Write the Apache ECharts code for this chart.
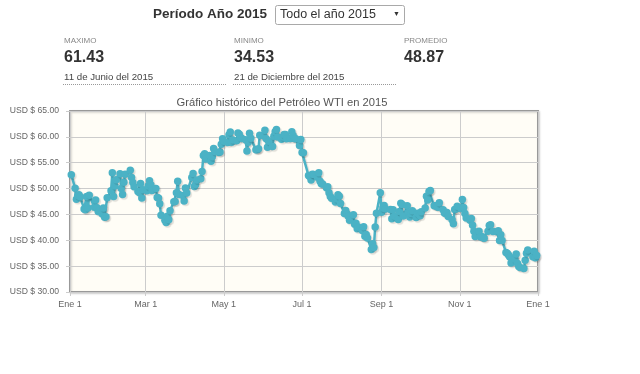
<!DOCTYPE html>
<html>
<head>
<meta charset="utf-8">
<script src="https://cdn.jsdelivr.net/npm/echarts@6/dist/echarts.min.js"></script>
<style>
html,body{margin:0;padding:0;background:#fff;}
#chart{width:640px;height:374px;}
</style>
</head>
<body>
<div id="chart"></div>
<script>
// ---- Data (WTI 2015) ----
const dates = [
'01-02','01-05','01-06','01-07','01-08','01-09','01-12','01-13','01-14','01-15','01-16','01-20','01-21','01-22','01-23','01-26','01-27','01-28','01-29','01-30',
'02-02','02-03','02-04','02-05','02-06','02-09','02-10','02-11','02-12','02-13','02-17','02-18','02-19','02-20','02-23','02-24','02-25','02-26','02-27',
'03-02','03-03','03-04','03-05','03-06','03-09','03-10','03-11','03-12','03-13','03-16','03-17','03-18','03-19','03-20','03-23','03-24','03-25','03-26','03-27','03-30','03-31',
'04-01','04-02','04-06','04-07','04-08','04-09','04-10','04-13','04-14','04-15','04-16','04-17','04-20','04-21','04-22','04-23','04-24','04-27','04-28','04-29','04-30',
'05-01','05-04','05-05','05-06','05-07','05-08','05-11','05-12','05-13','05-14','05-15','05-18','05-19','05-20','05-21','05-22','05-26','05-27','05-28','05-29',
'06-01','06-02','06-03','06-04','06-05','06-08','06-09','06-10','06-11','06-12','06-15','06-16','06-17','06-18','06-19','06-22','06-23','06-24','06-25','06-26','06-29','06-30',
'07-01','07-02','07-06','07-07','07-08','07-09','07-10','07-13','07-14','07-15','07-16','07-17','07-20','07-21','07-22','07-23','07-24','07-27','07-28','07-29','07-30','07-31',
'08-03','08-04','08-05','08-06','08-07','08-10','08-11','08-12','08-13','08-14','08-17','08-18','08-19','08-20','08-21','08-24','08-25','08-26','08-27','08-28','08-31',
'09-01','09-02','09-03','09-04','09-08','09-09','09-10','09-11','09-14','09-15','09-16','09-17','09-18','09-21','09-22','09-23','09-24','09-25','09-28','09-29','09-30',
'10-01','10-02','10-05','10-06','10-07','10-08','10-09','10-12','10-13','10-14','10-15','10-16','10-19','10-20','10-21','10-22','10-23','10-26','10-27','10-28','10-29','10-30',
'11-02','11-03','11-04','11-05','11-06','11-09','11-10','11-11','11-12','11-13','11-16','11-17','11-18','11-19','11-20','11-23','11-24','11-25','11-27','11-30',
'12-01','12-02','12-03','12-04','12-07','12-08','12-09','12-10','12-11','12-14','12-15','12-16','12-17','12-18','12-21','12-22','12-23','12-24','12-28','12-29','12-30','12-31'
];
const prices = [
52.69,50.04,47.93,48.65,48.79,48.36,46.07,45.89,48.48,46.25,48.69,46.39,47.78,46.31,45.59,45.15,46.23,44.45,44.53,48.24,
49.57,53.05,48.45,50.48,51.69,52.86,50.02,48.84,51.21,52.78,53.53,52.14,51.16,50.34,49.45,49.25,50.99,48.17,49.76,
49.59,50.52,51.53,50.76,49.61,50.00,48.29,48.17,47.05,44.84,43.88,43.46,44.66,43.96,45.72,47.45,47.51,49.21,51.43,48.87,48.68,47.60,
50.09,49.14,52.14,52.90,50.42,50.79,51.64,51.91,53.29,56.39,56.71,55.74,56.38,55.26,56.16,57.74,57.15,56.99,57.06,58.58,59.63,
59.15,58.93,60.40,60.93,58.94,59.39,59.25,60.75,60.50,59.88,59.69,59.43,57.26,58.98,60.72,59.72,57.51,57.51,57.68,60.30,
60.20,61.26,59.64,58.00,59.13,58.14,60.14,61.00,61.43,59.96,59.52,59.97,60.45,60.45,59.61,59.68,61.01,60.27,59.70,59.63,58.33,59.47,
56.96,56.93,52.53,52.33,51.65,52.78,52.74,52.20,53.04,51.41,50.91,50.89,50.15,50.36,49.19,48.45,48.14,47.39,47.98,48.79,48.52,47.12,
45.17,45.74,45.15,44.66,43.87,44.96,43.08,43.30,42.23,42.50,41.87,42.62,40.80,41.14,40.45,38.24,39.31,38.60,42.56,45.22,49.20,
45.41,46.25,46.75,46.05,45.94,44.15,45.92,44.63,44.00,45.59,47.15,46.90,44.68,46.68,45.36,44.48,45.20,45.70,44.43,45.23,45.09,
44.74,45.54,46.26,48.53,47.81,49.43,49.63,46.66,46.66,46.64,46.38,47.26,45.89,45.29,45.20,45.38,44.60,43.98,43.20,45.94,46.06,46.59,
46.14,47.90,46.32,45.20,44.29,43.87,44.21,42.93,41.75,40.74,41.74,40.67,40.75,40.54,40.39,41.75,42.87,42.98,41.71,41.65,
41.85,39.94,41.08,39.97,37.65,37.51,37.16,36.76,35.62,36.31,37.35,35.52,34.95,34.73,34.53,36.14,37.50,38.10,36.81,37.87,36.60,37.04
];
const xTickDays = [0, 59, 120, 181, 243, 304, 365];
const xTickLabels = ['Ene 1', 'Mar 1', 'May 1', 'Jul 1', 'Sep 1', 'Nov 1', 'Ene 1'];
const yMin = 30, yMax = 65, yStep = 5;
const statLabels = ['MAXIMO', 'MINIMO', 'PROMEDIO'];
const statValues = ['61.43', '34.53', '48.87'];
const statDates = ['11 de Junio del 2015', '21 de Diciembre del 2015', ''];

function dayOfYear(md) {
  const [m, d] = md.split('-').map(Number);
  return (Date.UTC(2015, m - 1, d) - Date.UTC(2015, 0, 1)) / 86400000;
}
const seriesData = dates.map((d, i) => [dayOfYear(d), prices[i]]);

const FONT = 'Liberation Sans, Arial, sans-serif';
const chart = echarts.init(document.getElementById('chart'), null, {renderer: 'canvas'});

const graphics = [
  {type: 'text', left: 153, top: 7, style: {text: 'Período Año 2015', font: 'bold 13.5px ' + FONT, fill: '#333'}},
  {type: 'rect', shape: {x: 275.5, y: 5.5, width: 129, height: 19, r: 2}, style: {fill: '#fff', stroke: '#a9a9a9', lineWidth: 1}},
  {type: 'text', left: 280, top: 8, style: {text: 'Todo el año 2015', font: '12.5px ' + FONT, fill: '#333'}},
  {type: 'text', left: 393, top: 11, style: {text: '▼', font: '7px ' + FONT, fill: '#333'}}
];
const statX = [64, 234, 404];
statLabels.forEach((lab, i) => {
  const x = statX[i];
  graphics.push({type: 'text', left: x, top: 37, style: {text: lab, font: '8px ' + FONT, fill: '#888'}});
  graphics.push({type: 'text', left: x, top: 50, style: {text: statValues[i], font: 'bold 16px ' + FONT, fill: '#333'}});
  if (statDates[i]) {
    graphics.push({type: 'text', left: x, top: 72, style: {text: statDates[i], font: '9.7px ' + FONT, fill: '#444'}});
    graphics.push({type: 'line', shape: {x1: x - 1, y1: 84.5, x2: x + 163, y2: 84.5}, style: {stroke: '#999', lineWidth: 1, lineDash: [1, 1]}});
  }
});

chart.setOption({
  animation: false,
  backgroundColor: '#fff',
  title: {
    text: 'Gráfico histórico del Petróleo WTI en 2015',
    left: 277, top: 92, textAlign: 'center',
    textStyle: {fontFamily: FONT, fontSize: 11.2, fontWeight: 'normal', color: '#555'}
  },
  graphic: graphics,
  grid: {
    left: 70, right: 102, top: 111, bottom: 82,
    show: true, backgroundColor: '#fffdf6', borderColor: '#999', borderWidth: 2,
    shadowColor: 'rgba(0,0,0,0.15)', shadowOffsetX: 1, shadowOffsetY: 1, shadowBlur: 2
  },
  xAxis: {
    type: 'value', min: 0, max: 365,
    axisLine: {show: false},
    axisTick: {show: true, customValues: xTickDays, length: 4, lineStyle: {color: '#ccc'}},
    axisLabel: {
      customValues: xTickDays,
      formatter: v => xTickLabels[xTickDays.indexOf(v)],
      fontFamily: FONT, fontSize: 9, color: '#666', margin: 8
    },
    splitLine: {show: true, lineStyle: {color: '#ccc', width: 1}}
  },
  yAxis: {
    type: 'value', min: yMin, max: yMax, interval: yStep,
    axisLine: {show: false},
    axisTick: {show: true, length: 4, lineStyle: {color: '#ccc'}},
    axisLabel: {
      formatter: v => 'USD $ ' + v.toFixed(2),
      fontFamily: FONT, fontSize: 8.6, color: '#666', margin: 11
    },
    splitLine: {show: true, lineStyle: {color: '#ccc', width: 1}}
  },
  series: [{
    type: 'line',
    data: seriesData,
    symbol: 'circle',
    symbolSize: 7.5,
    showAllSymbol: true,
    lineStyle: {color: '#4bb2c5', width: 2.5, shadowColor: 'rgba(0,0,0,0.12)', shadowOffsetX: 1.5, shadowOffsetY: 1.5, shadowBlur: 1},
    itemStyle: {color: '#4bb2c5', shadowColor: 'rgba(0,0,0,0.12)', shadowOffsetX: 1.5, shadowOffsetY: 1.5, shadowBlur: 1}
  }]
});
</script>
</body>
</html>
